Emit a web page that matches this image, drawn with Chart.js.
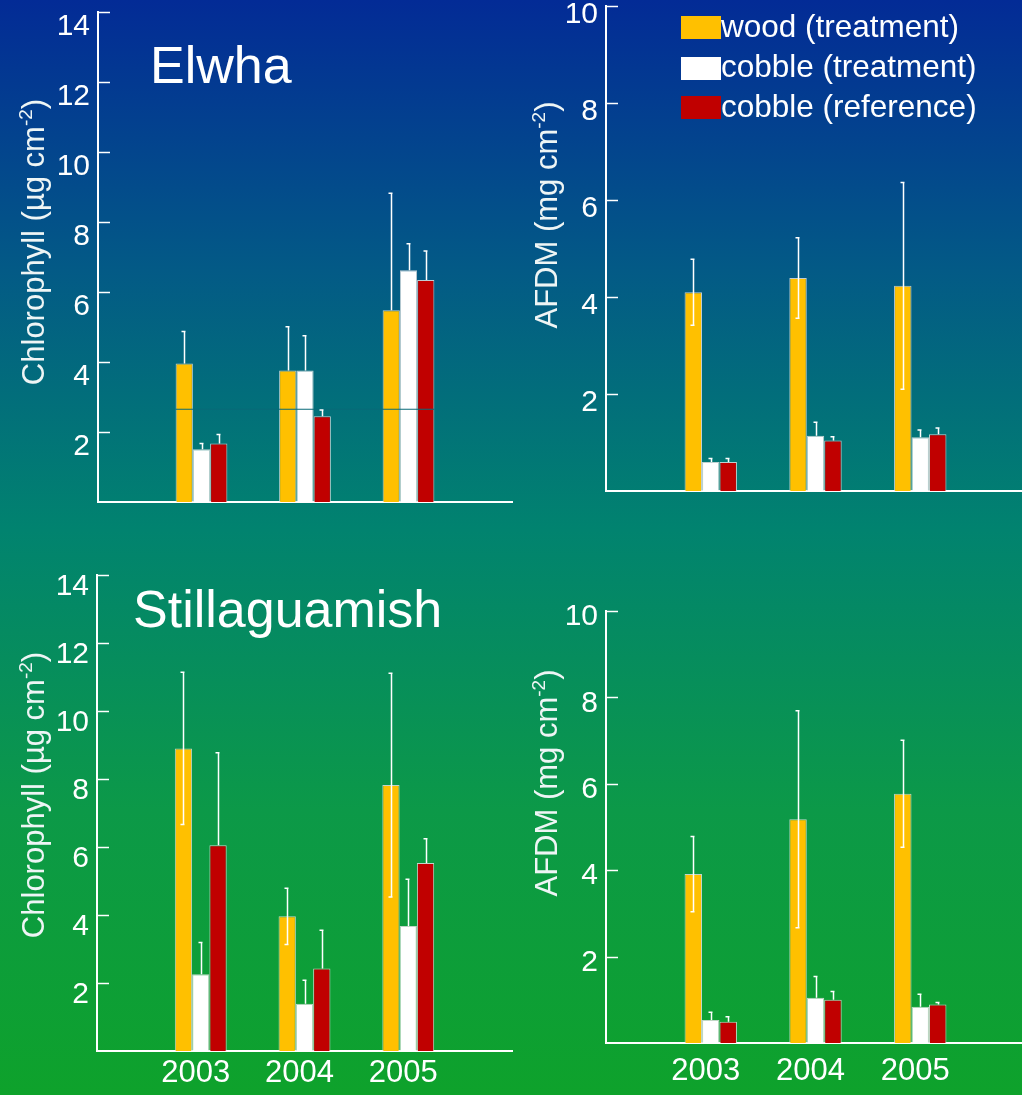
<!DOCTYPE html>
<html>
<head>
<meta charset="utf-8">
<script src="https://cdn.jsdelivr.net/npm/chart.js@4/dist/chart.umd.min.js"></script>
<style>
html, body { margin: 0; padding: 0; width: 1022px; height: 1095px; overflow: hidden; }
body {
  position: relative;
  background: linear-gradient(to bottom, #032b96 0px, #035a86 270px, #01836f 530px, #0c9948 810px, #0ea22b 1095px);
}
canvas { position: absolute; left: 0; top: 0; }
</style>
</head>
<body>
<canvas id="p1" width="1030" height="1095"></canvas>
<canvas id="p2" width="1030" height="1095"></canvas>
<canvas id="p3" width="1030" height="1095"></canvas>
<canvas id="p4" width="1030" height="1095"></canvas>
<script>
// ---------- data ----------
const years = ['2003', '2004', '2005'];
const seriesNames = ['wood (treatment)', 'cobble (treatment)', 'cobble (reference)'];
const seriesColors = ['#FFC000', '#FFFFFF', '#C00000'];
const chlTickValues = [2, 4, 6, 8, 10, 12, 14];
const afdmTickValues = [2, 4, 6, 8, 10];

// Elwha chlorophyll (µg cm-2)
const elwhaChlWood = [3.96, 3.76, 5.48];
const elwhaChlWoodErr = [0.91, 1.25, 3.34];
const elwhaChlCobT = [1.51, 3.76, 6.62];
const elwhaChlCobTErr = [0.16, 0.99, 0.76];
const elwhaChlCobR = [1.67, 2.45, 6.34];
const elwhaChlCobRErr = [0.26, 0.18, 0.83];
const elwhaChlRefLine = 2.65;

// Elwha AFDM (mg cm-2)
const elwhaAfdmWood = [4.10, 4.39, 4.23];
const elwhaAfdmWoodErr = [0.68, 0.83, 2.13];
const elwhaAfdmCobT = [0.60, 1.14, 1.11];
const elwhaAfdmCobTErr = [0.07, 0.28, 0.15];
const elwhaAfdmCobR = [0.60, 1.04, 1.17];
const elwhaAfdmCobRErr = [0.07, 0.08, 0.13];

// Stillaguamish chlorophyll (µg cm-2)
const stillChlWood = [8.90, 3.96, 7.82];
const stillChlWoodErr = [2.24, 0.83, 3.29];
const stillChlCobT = [2.26, 1.39, 3.68];
const stillChlCobTErr = [0.93, 0.69, 1.37];
const stillChlCobR = [6.05, 2.43, 5.53];
const stillChlCobRErr = [2.72, 1.12, 0.71];

// Stillaguamish AFDM (mg cm-2)
const stillAfdmWood = [3.91, 5.18, 5.77];
const stillAfdmWoodErr = [0.87, 2.51, 1.24];
const stillAfdmCobT = [0.53, 1.05, 0.84];
const stillAfdmCobTErr = [0.18, 0.49, 0.29];
const stillAfdmCobR = [0.49, 1.00, 0.89];
const stillAfdmCobRErr = [0.12, 0.19, 0.05];

// ---------- drawing ----------
const FONT = '"Liberation Sans", Arial, Helvetica, sans-serif';
const CW = 1030, CH = 1095;

function pad(arr) { return [null, ...arr, null]; }

function drawYTitle(ctx, main, sup, close, cy, baseX) {
  ctx.save();
  ctx.translate(baseX, cy);
  ctx.rotate(-Math.PI / 2);
  ctx.fillStyle = '#eef5f5';
  ctx.textBaseline = 'alphabetic';
  ctx.textAlign = 'left';
  const fMain = '31px ' + FONT, fSup = '19px ' + FONT;
  ctx.font = fMain;
  const w1 = ctx.measureText(main).width, w3 = ctx.measureText(close).width;
  ctx.font = fSup;
  const w2 = ctx.measureText(sup).width;
  let x = -(w1 + w2 + w3) / 2;
  ctx.font = fMain; ctx.fillText(main, x, 0); x += w1;
  ctx.font = fSup; ctx.fillText(sup, x, -12); x += w2;
  ctx.font = fMain; ctx.fillText(close, x, 0);
  ctx.restore();
}

function panelPlugin(cfg) {
  return {
    id: 'panelDecor',
    afterDatasetsDraw(chart) {
      const ctx = chart.ctx, ys = chart.scales.y, area = chart.chartArea;
      ctx.save();
      // stray reference line
      if (cfg.refLine != null) {
        const first = chart.getDatasetMeta(0).data[1];
        const last = chart.getDatasetMeta(2).data[3];
        const y = ys.getPixelForValue(cfg.refLine);
        ctx.strokeStyle = '#086a78';
        ctx.lineWidth = 1.2;
        ctx.beginPath();
        ctx.moveTo(first.x - first.width / 2, y);
        ctx.lineTo(last.x + last.width / 2, y);
        ctx.stroke();
      }
      // error bars
      ctx.strokeStyle = '#ffffff';
      ctx.lineWidth = 1.5;
      chart.data.datasets.forEach((ds, i) => {
        const meta = chart.getDatasetMeta(i);
        meta.data.forEach((bar, j) => {
          const v = ds.data[j], e = ds.errors[j];
          if (v == null || e == null) return;
          const x = Math.round(bar.x) + 0.5;
          const yTop = ys.getPixelForValue(v + e);
          ctx.beginPath();
          ctx.moveTo(x, bar.y);
          ctx.lineTo(x, yTop);
          ctx.moveTo(x - 3, yTop);
          ctx.lineTo(x + 1, yTop);
          if (ds.lowerWhisker) {
            const yBot = ys.getPixelForValue(v - e);
            ctx.moveTo(x, bar.y);
            ctx.lineTo(x, yBot);
            ctx.moveTo(x - 3, yBot);
            ctx.lineTo(x + 1, yBot);
          }
          ctx.stroke();
        });
      });
      // inward tick marks on y axis
      ctx.lineWidth = 1.5;
      ys.ticks.forEach(t => {
        const y = Math.round(ys.getPixelForValue(t.value)) + 0.5;
        ctx.beginPath();
        ctx.moveTo(area.left, y);
        ctx.lineTo(area.left + 12, y);
        ctx.stroke();
      });
      ctx.restore();
    },
    afterDraw(chart) {
      const ctx = chart.ctx;
      ctx.save();
      if (cfg.title) {
        ctx.fillStyle = '#ffffff';
        ctx.font = '52px ' + FONT;
        ctx.textBaseline = 'alphabetic';
        ctx.textAlign = 'left';
        ctx.fillText(cfg.title, cfg.titlePos[0], cfg.titlePos[1]);
      }
      drawYTitle(ctx, cfg.yTitle[0], cfg.yTitle[1], cfg.yTitle[2], cfg.yTitlePos[1], cfg.yTitlePos[0]);
      if (cfg.legend) {
        const bx = 681, rows = [[16, 37], [57, 77], [96, 117]];
        chart.data.datasets.forEach((ds, i) => {
          ctx.fillStyle = ds.backgroundColor;
          ctx.fillRect(bx, rows[i][0], 40, 23);
          ctx.fillStyle = '#ffffff';
          ctx.font = '31.5px ' + FONT;
          ctx.textBaseline = 'alphabetic';
          ctx.textAlign = 'left';
          ctx.fillText(ds.label, bx + 40, rows[i][1]);
        });
      }
      ctx.restore();
    }
  };
}

function makePanel(id, cfg) {
  const W = 60, H = cfg.showYears ? 50 : 10;
  const vals = [cfg.wood, cfg.cobT, cfg.cobR];
  const datasets = vals.map((v, i) => ({
    label: seriesNames[i],
    data: pad(v),
    errors: pad(cfg.errs[i]),
    lowerWhisker: !!cfg.lowerWood && i === 0,
    backgroundColor: seriesColors[i],
    borderColor: 'rgba(225,225,225,0.85)',
    borderWidth: 1,
    categoryPercentage: 0.5,
    barPercentage: 1.0
  }));
  new Chart(document.getElementById(id), {
    type: 'bar',
    data: { labels: ['', ...years, ''], datasets },
    options: {
      responsive: false,
      animation: false,
      devicePixelRatio: 1,
      layout: { padding: {
        left: cfg.area.left - W,
        top: cfg.area.top,
        right: CW - cfg.area.right,
        bottom: CH - cfg.area.bottom - H
      } },
      plugins: { legend: { display: false }, tooltip: { enabled: false }, title: { display: false } },
      scales: {
        x: {
          type: 'category',
          offset: false,
          grid: { display: false, drawTicks: false },
          border: { display: true, color: '#ffffff', width: 2 },
          ticks: {
            display: !!cfg.showYears, color: '#ffffff',
            font: { family: FONT, size: 31 }, padding: cfg.xPad || 0,
            labelOffset: -5,
            autoSkip: false, maxRotation: 0, minRotation: 0
          },
          afterFit(s) { s.height = H; s.paddingLeft = 0; s.paddingRight = 0; }
        },
        y: {
          min: 0, max: cfg.max,
          grid: { display: false, drawTicks: false },
          border: { display: true, color: '#ffffff', width: 2 },
          ticks: {
            color: '#ffffff', font: { family: FONT, size: 30 },
            padding: 8, labelOffset: cfg.labelOffset
          },
          afterBuildTicks(s) { s.ticks = cfg.tickValues.map(v => ({ value: v })); },
          afterFit(s) { s.width = W; s.paddingTop = 0; s.paddingBottom = 0; }
        }
      }
    },
    plugins: [panelPlugin(cfg)]
  });
}

makePanel('p1', {
  wood: elwhaChlWood, cobT: elwhaChlCobT, cobR: elwhaChlCobR,
  errs: [elwhaChlWoodErr, elwhaChlCobTErr, elwhaChlCobRErr],
  max: 14, tickValues: chlTickValues, labelOffset: 15,
  area: { left: 98, top: 12, right: 512, bottom: 502 },
  showYears: false, lowerWood: false, refLine: elwhaChlRefLine,
  title: 'Elwha', titlePos: [150, 83],
  yTitle: ['Chlorophyll (\u00b5g cm', '-2', ')'], yTitlePos: [44, 242]
});
makePanel('p2', {
  wood: elwhaAfdmWood, cobT: elwhaAfdmCobT, cobR: elwhaAfdmCobR,
  errs: [elwhaAfdmWoodErr, elwhaAfdmCobTErr, elwhaAfdmCobRErr],
  max: 10, tickValues: afdmTickValues, labelOffset: 9,
  area: { left: 606, top: 6, right: 1025, bottom: 491 },
  showYears: false, lowerWood: true, legend: true,
  yTitle: ['AFDM (mg cm', '-2', ')'], yTitlePos: [557, 215]
});
makePanel('p3', {
  wood: stillChlWood, cobT: stillChlCobT, cobR: stillChlCobR,
  errs: [stillChlWoodErr, stillChlCobTErr, stillChlCobRErr],
  max: 14, tickValues: chlTickValues, labelOffset: 12,
  area: { left: 97, top: 575, right: 512, bottom: 1051 },
  showYears: true, xPad: 4, lowerWood: true,
  title: 'Stillaguamish', titlePos: [133, 627],
  yTitle: ['Chlorophyll (\u00b5g cm', '-2', ')'], yTitlePos: [44, 795]
});
makePanel('p4', {
  wood: stillAfdmWood, cobT: stillAfdmCobT, cobR: stillAfdmCobR,
  errs: [stillAfdmWoodErr, stillAfdmCobTErr, stillAfdmCobRErr],
  max: 10, tickValues: afdmTickValues, labelOffset: 6,
  area: { left: 606, top: 611, right: 1025, bottom: 1043 },
  showYears: true, xPad: 10, lowerWood: true,
  yTitle: ['AFDM (mg cm', '-2', ')'], yTitlePos: [557, 783]
});
</script>
</body>
</html>
